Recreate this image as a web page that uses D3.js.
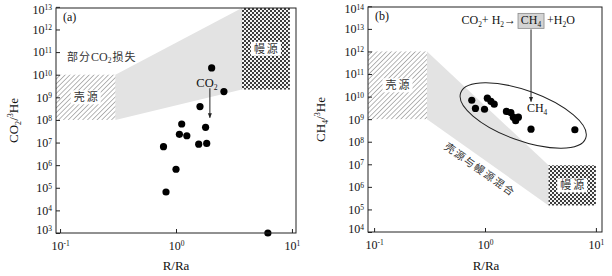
<!DOCTYPE html>
<html lang="zh">
<head>
<meta charset="utf-8">
<title>CO2/3He, CH4/3He vs R/Ra</title>
<script src="https://cdn.jsdelivr.net/npm/d3@7"></script>
<style>
  body { margin: 0; background: #fff; }
  text { font-family: "Liberation Serif", "Times New Roman", serif; fill: #111; }
  text.cjk { font-family: "Noto Sans CJK SC", sans-serif; fill: #333; }
</style>
</head>
<body>
<script>
// ---- data ----
var aRatio = [2.03, 2.59, 1.61, 1.12, 1.80, 1.07, 1.24, 0.78, 1.57, 1.84, 1.00, 0.82, 6.2];
var aCO2He = [2.0e10, 1.8e9, 3.9e8, 6.6e7, 4.7e7, 2.3e7, 2.0e7, 6.6e6, 8.5e6, 9.1e6, 6.6e5, 6.5e4, 1.0e3];

var bRatio = [0.76, 0.82, 0.99, 1.05, 1.13, 1.21, 1.56, 1.71, 1.80, 1.89, 2.0, 2.6, 6.46];
var bCH4He = [6.9e9, 3.0e9, 2.75e9, 8.5e9, 6.2e9, 4.6e9, 2.2e9, 1.95e9, 1.23e9, 8.5e8, 1.23e9, 3.6e8, 3.4e8];

var xTicks = [0.1, 1, 10];
var aYTicks = [1e3, 1e4, 1e5, 1e6, 1e7, 1e8, 1e9, 1e10, 1e11, 1e12, 1e13];
var bYTicks = [1e4, 1e5, 1e6, 1e7, 1e8, 1e9, 1e10, 1e11, 1e12, 1e13, 1e14];

// source fields [xMin, xMax, yMin, yMax] (null = edge of plot)
var aCrust = [null, 0.3, 1e8, 1e10];
var aMantle = [3.7, 9.6, 2.2e9, null];
var aBand = [[0.3, 1e10], [3.7, null], [3.7, 2.2e9], [0.3, 1e8]];

var bCrust = [null, 0.3, 1e9, 1e12];
var bMantle = [3.74, 10, 1.5e5, 9e6];
var bBand = [[0.3, 1e12], [3.74, 9e6], [3.74, 1.5e5], [0.3, 1e9]];

var svg = d3.select("body").append("svg")
  .attr("width", 612)
  .attr("height", 276);

var defs = svg.append("defs");
defs.append("pattern")
  .attr("id", "hatch")
  .attr("patternUnits", "userSpaceOnUse")
  .attr("width", 3.4).attr("height", 3.4)
  .attr("patternTransform", "rotate(45)")
  .append("line")
  .attr("x1", 0).attr("y1", 0).attr("x2", 0).attr("y2", 3.4)
  .attr("stroke", "#7a7a7a").attr("stroke-width", 1.1);

var chk = defs.append("pattern")
  .attr("id", "checker")
  .attr("patternUnits", "userSpaceOnUse")
  .attr("width", 4).attr("height", 4);
chk.append("rect").attr("width", 4).attr("height", 4).attr("fill", "#f4f4f4");
chk.append("rect").attr("width", 2).attr("height", 2).attr("fill", "#3c3c3c");
chk.append("rect").attr("x", 2).attr("y", 2).attr("width", 2).attr("height", 2).attr("fill", "#3c3c3c");

defs.append("marker")
  .attr("id", "arr")
  .attr("viewBox", "0 0 10 10")
  .attr("refX", 9).attr("refY", 5)
  .attr("markerWidth", 5).attr("markerHeight", 5)
  .attr("orient", "auto")
  .append("path").attr("d", "M0,1 L10,5 L0,9 Z").attr("fill", "#222");

// text with sub/superscripts: parts = [[str, "sub"|"sup"|null], ...]
function rich(t, parts, fs) {
  var off = 0;
  parts.forEach(function (p) {
    var want = p[1] === "sup" ? -fs * 0.38 : (p[1] === "sub" ? fs * 0.22 : 0);
    var s = t.append("tspan").attr("dy", want - off).text(p[0]);
    if (p[1]) s.attr("font-size", (fs * 0.62) + "px");
    off = want;
  });
  return t;
}

function powLabels(g) {
  g.selectAll(".tick text").each(function (d) {
    var t = d3.select(this).text("10");
    t.append("tspan")
      .attr("dy", "-0.45em")
      .attr("font-size", "7.5px")
      .text(Math.round(Math.log10(d)));
  });
}

function boxLabel(g, cx, cy, txt) {
  g.append("rect")
    .attr("x", cx - 15).attr("y", cy - 7)
    .attr("width", 30).attr("height", 14)
    .attr("fill", "#fff");
  g.append("text").attr("class", "cjk")
    .attr("x", cx + 1).attr("y", cy + 4)
    .attr("text-anchor", "middle")
    .attr("font-size", "11px")
    .attr("letter-spacing", "2px")
    .text(txt);
}

function panel(o) {
  var x = d3.scaleLog().domain(o.xDom).range(o.xRange);
  var y = d3.scaleLog().domain(o.yDom).range(o.yRange);
  var g = svg.append("g");
  var xv = function (v) { return x(v === null ? o.xDom[0] : v); };
  var yLo = function (v) { return y(v === null ? o.yDom[0] : v); };
  var yHi = function (v) { return y(v === null ? o.yDom[1] : v); };

  // mixing band
  g.append("path")
    .attr("d", d3.line()
      .x(function (d) { return x(d[0]); })
      .y(function (d) { return yHi(d[1]); })(o.band) + "Z")
    .attr("fill", "#e3e3e3");

  // crust field
  g.append("rect")
    .attr("x", xv(o.crust[0])).attr("y", yHi(o.crust[3]))
    .attr("width", x(o.crust[1]) - xv(o.crust[0]))
    .attr("height", yLo(o.crust[2]) - yHi(o.crust[3]))
    .attr("fill", "url(#hatch)");
  boxLabel(g, (xv(o.crust[0]) + x(o.crust[1])) / 2, (yLo(o.crust[2]) + yHi(o.crust[3])) / 2, "壳源");

  // mantle field
  g.append("rect")
    .attr("x", x(o.mantle[0])).attr("y", yHi(o.mantle[3]))
    .attr("width", x(o.mantle[1]) - x(o.mantle[0]))
    .attr("height", yLo(o.mantle[2]) - yHi(o.mantle[3]))
    .attr("fill", "url(#checker)");
  boxLabel(g, (x(o.mantle[0]) + x(o.mantle[1])) / 2, (yLo(o.mantle[2]) + yHi(o.mantle[3])) / 2, "幔源");

  // samples
  g.selectAll("circle.pt")
    .data(o.xs)
    .enter()
    .append("circle")
    .attr("class", "pt")
    .attr("cx", function (d) { return x(d); })
    .attr("cy", function (d, i) { return y(o.ys[i]); })
    .attr("r", 3.6)
    .attr("fill", "#000");

  // frame
  g.append("rect")
    .attr("x", o.xRange[0]).attr("y", o.yRange[1])
    .attr("width", o.xRange[1] - o.xRange[0])
    .attr("height", o.yRange[0] - o.yRange[1])
    .attr("fill", "none").attr("stroke", "#222").attr("stroke-width", 1);

  var yAxis = d3.axisLeft(y).tickValues(o.yTicks).tickSizeInner(-4).tickSizeOuter(0).tickPadding(4);
  var gy = g.append("g").attr("transform", "translate(" + o.xRange[0] + ",0)").call(yAxis);
  var xAxis = d3.axisBottom(x).tickValues(xTicks).tickSizeInner(-4).tickSizeOuter(0).tickPadding(8);
  var gx = g.append("g").attr("transform", "translate(0," + o.yRange[0] + ")").call(xAxis);
  [gx, gy].forEach(function (a) {
    a.select(".domain").remove();
    a.selectAll(".tick line").attr("stroke", "#222");
    a.selectAll(".tick text")
      .attr("fill", "#111")
      .attr("font-family", "Liberation Serif, serif")
      .attr("font-size", "12px");
    powLabels(a);
  });
  // end labels sit slightly inside the frame
  gy.selectAll(".tick text")
    .filter(function (d) { return d === o.yTicks[o.yTicks.length - 1]; })
    .attr("y", 2.5);
  gy.selectAll(".tick text")
    .filter(function (d) { return d === o.yTicks[0]; })
    .attr("y", -3);

  // axis titles
  g.append("text")
    .attr("x", (o.xRange[0] + o.xRange[1]) / 2 + o.xTitleShift)
    .attr("y", 270)
    .attr("text-anchor", "middle")
    .attr("font-size", "13px")
    .text("R/Ra");
  var yt = g.append("text")
    .attr("transform", "translate(" + o.yTitleX + "," + ((o.yRange[0] + o.yRange[1]) / 2) + ") rotate(-90)")
    .attr("text-anchor", "middle")
    .attr("font-size", "13px");
  rich(yt, o.yTitle, 13);

  g.append("text")
    .attr("x", o.xRange[0] + 7).attr("y", o.yRange[1] + 13)
    .attr("font-size", "12px")
    .text(o.tag);

  return { x: x, y: y, g: g };
}

// ---- panel (a) ----
var A = panel({
  xDom: [Math.pow(10, -1.035), Math.pow(10, 1.035)], xRange: [56, 296],
  yDom: [1e3, Math.pow(10, 12.95)], yRange: [233, 8],
  yTicks: aYTicks, xs: aRatio, ys: aCO2He,
  crust: aCrust, mantle: aMantle, band: aBand,
  yTitle: [["CO", null], ["2", "sub"], ["/", null], ["3", "sup"], ["He", null]],
  yTitleX: 18, xTitleShift: 0, tag: "(a)"
});

var pl = A.g.append("text").attr("class", "cjk")
  .attr("x", A.x(0.115)).attr("y", A.y(4e10))
  .attr("font-size", "11px")
  .attr("letter-spacing", "1px");
pl.append("tspan").text("部分");
pl.append("tspan").attr("font-family", "Liberation Serif, serif").attr("letter-spacing", "0px").attr("font-size", "12px").text("CO");
pl.append("tspan").attr("font-family", "Liberation Serif, serif").attr("font-size", "7.5px").attr("dy", 2).text("2");
pl.append("tspan").attr("dy", -2).text("损失");

rich(A.g.append("text")
  .attr("x", A.x(1.85)).attr("y", A.y(Math.pow(10, 9.45)))
  .attr("text-anchor", "middle")
  .attr("font-size", "12.5px"), [["CO", null], ["2", "sub"]], 12.5);

A.g.append("line")
  .attr("x1", A.x(1.96)).attr("x2", A.x(1.96))
  .attr("y1", A.y(Math.pow(10, 9.4))).attr("y2", A.y(Math.pow(10, 8.1)))
  .attr("stroke", "#222").attr("stroke-width", 1)
  .attr("marker-end", "url(#arr)");

// ---- panel (b) ----
var B = panel({
  xDom: [Math.pow(10, -1.055), Math.pow(10, 1.055)], xRange: [368, 602],
  yDom: [1e4, Math.pow(10, 13.97)], yRange: [232, 7],
  yTicks: bYTicks, xs: bRatio, ys: bCH4He,
  crust: bCrust, mantle: bMantle, band: bBand,
  yTitle: [["CH", null], ["4", "sub"], ["/", null], ["3", "sup"], ["He", null]],
  yTitleX: 325, xTitleShift: 1, tag: "(b)"
});

// mixing label along the band's lower edge
var p0 = [B.x(bBand[3][0]), B.y(bBand[3][1])];
var p1 = [B.x(bBand[2][0]), B.y(bBand[2][1])];
var ang = Math.atan2(p1[1] - p0[1], p1[0] - p0[0]) * 180 / Math.PI;
B.g.append("text").attr("class", "cjk")
  .attr("transform", "translate(" + B.x(0.86) + "," + B.y(4.3e6) + ") rotate(" + ang + ")")
  .attr("text-anchor", "middle")
  .attr("font-size", "10.5px")
  .attr("letter-spacing", "1.5px")
  .text("壳源与幔源混合");

// CH4 cluster ellipse
B.g.append("ellipse")
  .attr("transform", "translate(" + B.x(2.21) + "," + B.y(1.45e9) + ") rotate(20)")
  .attr("rx", 66.5).attr("ry", 25)
  .attr("fill", "none").attr("stroke", "#222").attr("stroke-width", 1);

// reaction
var ax = B.x(2.6), ey = B.y(Math.pow(10, 13.2));
B.g.append("rect")
  .attr("x", ax - 13).attr("y", ey - 11)
  .attr("width", 26).attr("height", 15)
  .attr("fill", "#d4d4d4").attr("stroke", "#8a8a8a").attr("stroke-width", 0.8);
rich(B.g.append("text").attr("x", ax).attr("y", ey).attr("text-anchor", "middle").attr("font-size", "12px"),
  [["CH", null], ["4", "sub"]], 12);
rich(B.g.append("text").attr("x", ax - 15).attr("y", ey).attr("text-anchor", "end").attr("font-size", "12px"),
  [["CO", null], ["2", "sub"], ["+ H", null], ["2", "sub"], ["\u2192", null]], 12);
rich(B.g.append("text").attr("x", ax + 16).attr("y", ey).attr("font-size", "12px"),
  [["+H", null], ["2", "sub"], ["O", null]], 12);

B.g.append("line")
  .attr("x1", ax).attr("x2", ax)
  .attr("y1", ey + 5).attr("y2", B.y(Math.pow(10, 9.78)))
  .attr("stroke", "#222").attr("stroke-width", 1)
  .attr("marker-end", "url(#arr)");

rich(B.g.append("text")
  .attr("x", B.x(2.95)).attr("y", B.y(Math.pow(10, 9.3)))
  .attr("text-anchor", "middle")
  .attr("font-size", "12px"), [["CH", null], ["4", "sub"]], 12);
</script>
</body>
</html>
